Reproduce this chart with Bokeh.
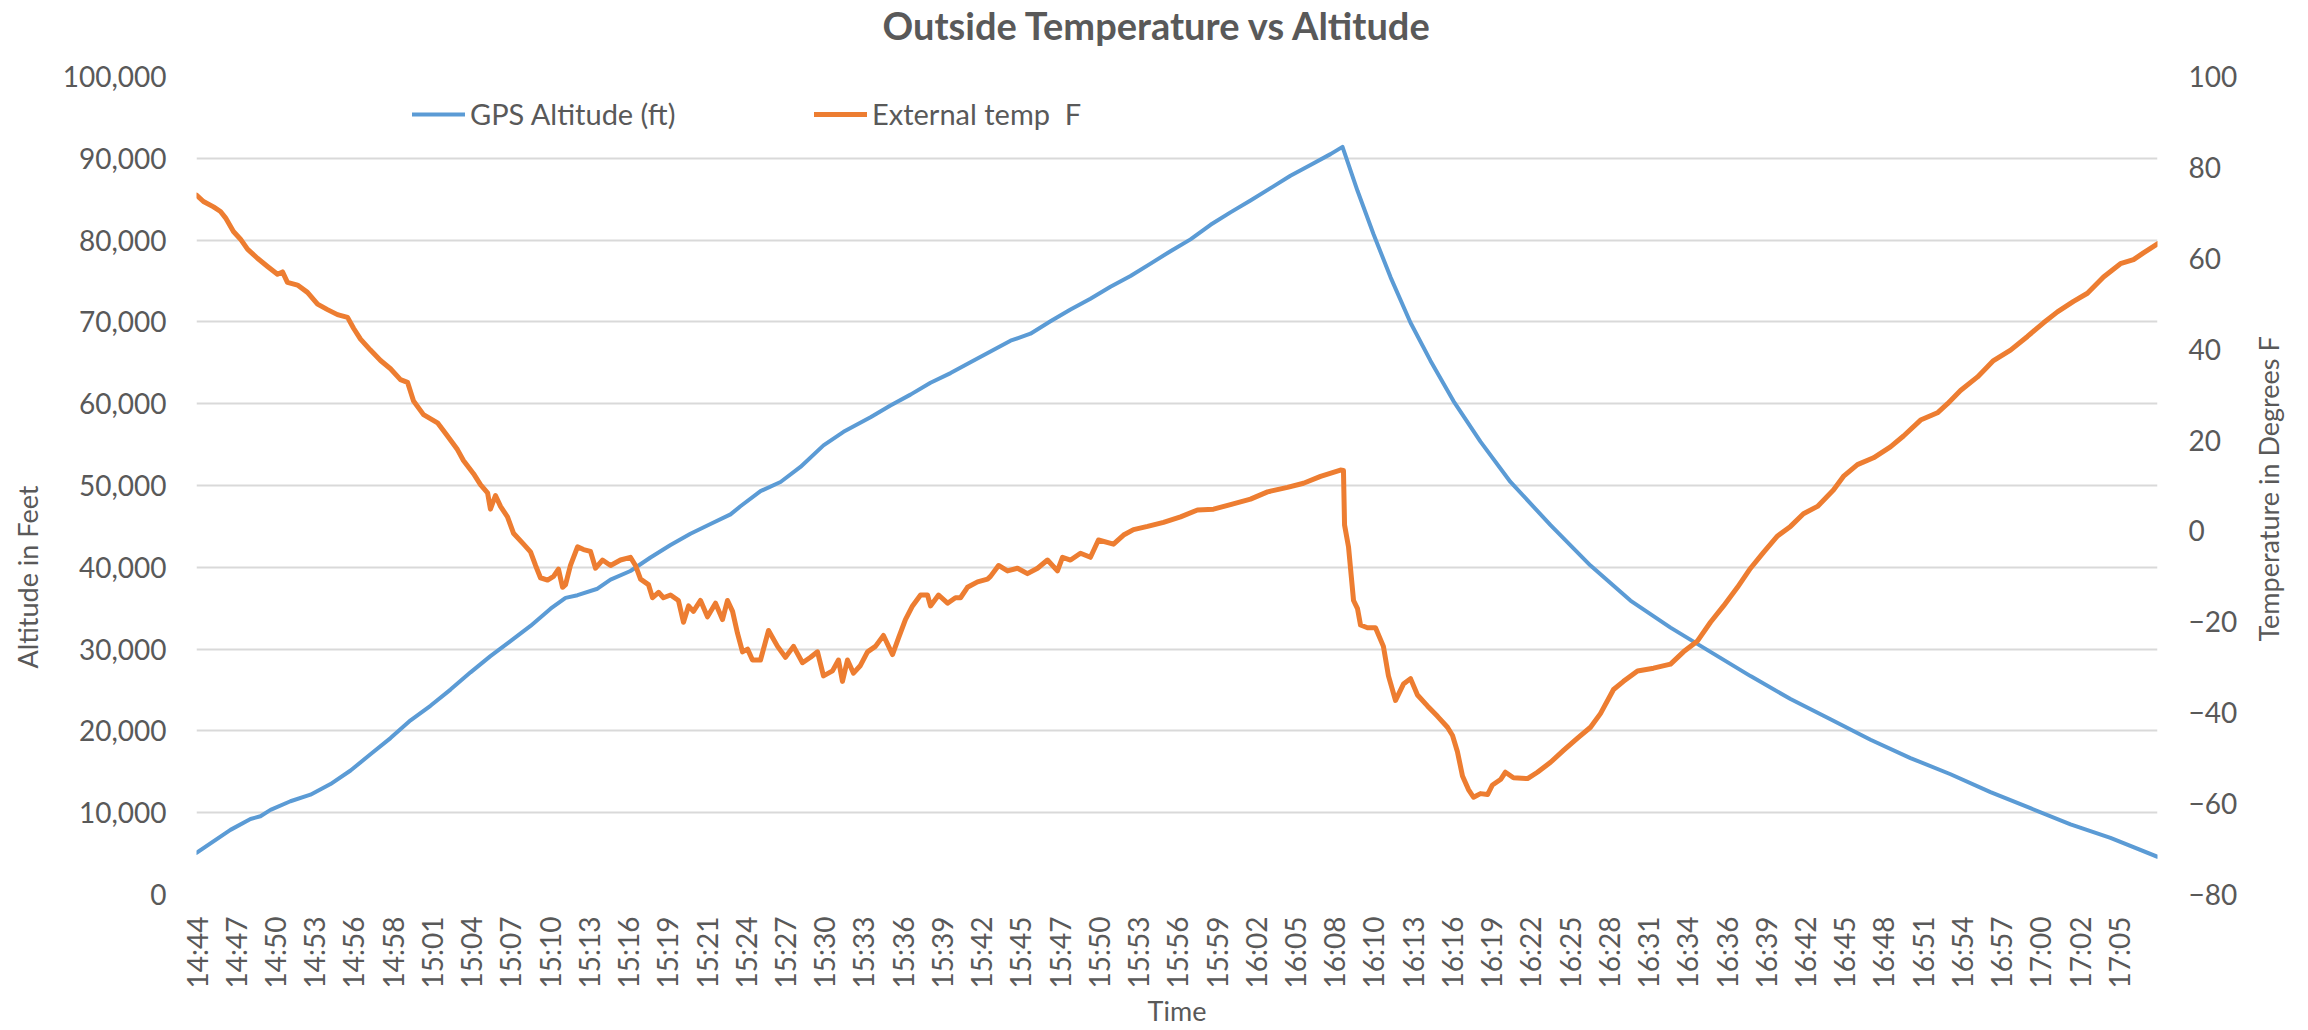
import math
from bokeh.plotting import figure
from bokeh.layouts import row
from bokeh.models import (Range1d, LinearAxis, FixedTicker, NumeralTickFormatter,
                          Legend, LegendItem, Title)
from bokeh.core.properties import value
from bokeh.embed import file_html
from bokeh.resources import INLINE

# ---------------- data ----------------
title_text = "Outside Temperature vs Altitude"
x_title = "Time"
left_title = "Altitude in Feet"
right_title = "Temperature in  Degrees F"
alt_series_name = "GPS Altitude (ft)"
temp_series_name = "External temp  F"

time_labels = ["14:44", "14:47", "14:50", "14:53", "14:56", "14:58", "15:01", "15:04", "15:07", "15:10",
               "15:13", "15:16", "15:19", "15:21", "15:24", "15:27", "15:30", "15:33", "15:36", "15:39",
               "15:42", "15:45", "15:47", "15:50", "15:53", "15:56", "15:59", "16:02", "16:05", "16:08",
               "16:10", "16:13", "16:16", "16:19", "16:22", "16:25", "16:28", "16:31", "16:34", "16:36",
               "16:39", "16:42", "16:45", "16:48", "16:51", "16:54", "16:57", "17:00", "17:02", "17:05"]
label_interval_min = 2.8776   # minutes between two category labels
x_end_min = 143.84             # last sample, minutes after first sample

alt_ticks = [0, 10000, 20000, 30000, 40000, 50000, 60000, 70000, 80000, 90000, 100000]
temp_ticks = [-80, -60, -40, -20, 0, 20, 40, 60, 80, 100]

# minutes after the first sample (14:44)
alt_elapsed_min = [0.0, 2.49, 3.96, 4.69, 5.43, 6.89, 8.36, 9.83, 11.30, 12.76,
                   14.23, 15.70, 17.16, 18.63, 20.10, 21.56, 23.03, 24.50, 25.97, 27.07,
                   27.95, 29.41, 30.37, 31.83, 33.30, 34.77, 36.23, 37.70, 39.17, 39.90,
                   41.37, 42.84, 44.30, 45.99, 47.46, 49.44, 50.90, 52.37, 53.84, 55.31,
                   56.77, 58.24, 59.71, 61.17, 62.64, 64.11, 65.57, 67.04, 68.51, 69.98,
                   71.44, 72.91, 74.38, 75.84, 77.31, 78.78, 80.24, 81.71, 83.18, 84.06,
                   85.16, 86.33, 87.58, 89.05, 90.51, 92.20, 94.18, 96.38, 99.32, 102.25,
                   105.18, 108.12, 111.05, 113.99, 116.92, 119.85, 122.79, 125.72, 128.66, 131.59,
                   134.52, 137.46, 140.39, 143.84]
alt_ft = [5080, 7900, 9230, 9560, 10350, 11400, 12200, 13500, 15160, 17140,
          19120, 21290, 23070, 25050, 27160, 29140, 30980, 32830, 34940, 36260,
          36590, 37380, 38500, 39550, 41200, 42720, 44100, 45290, 46470, 47460,
          49310, 50430, 52270, 54910, 56560, 58340, 59790, 61110, 62560, 63740,
          65060, 66380, 67700, 68560, 70070, 71520, 72840, 74290, 75610, 77130,
          78640, 80090, 81870, 83390, 84840, 86350, 87870, 89190, 90510, 91400,
          86030, 80750, 75480, 69900, 65260, 60320, 55370, 50430, 45160, 40210,
          35930, 32630, 29660, 26700, 23900, 21420, 18920, 16680, 14700, 12520,
          10550, 8570, 6920, 4610]

temp_elapsed_min = [0.0, 0.51, 1.25, 1.76, 2.13, 2.71, 3.23, 3.74, 4.47, 5.21,
                    5.94, 6.31, 6.67, 7.41, 8.14, 8.88, 9.61, 10.34, 11.08, 11.52,
                    12.03, 12.76, 13.50, 14.23, 14.96, 15.48, 15.92, 16.65, 17.68, 18.41,
                    19.14, 19.58, 20.32, 20.83, 21.35, 21.56, 21.93, 22.30, 22.81, 23.25,
                    23.99, 24.50, 24.87, 25.23, 25.75, 26.19, 26.55, 26.85, 27.07, 27.43,
                    27.95, 28.39, 28.90, 29.27, 29.78, 30.37, 31.10, 31.83, 32.20, 32.57,
                    33.15, 33.45, 33.89, 34.25, 34.77, 35.35, 35.72, 36.09, 36.45, 36.97,
                    37.48, 38.07, 38.58, 38.95, 39.32, 39.68, 40.05, 40.42, 40.78, 41.37,
                    41.96, 42.62, 43.20, 43.79, 44.45, 45.04, 45.55, 45.99, 46.65, 47.09,
                    47.38, 47.75, 48.19, 48.70, 49.22, 49.80, 50.39, 51.05, 51.49, 52.00,
                    52.52, 53.11, 53.62, 53.84, 54.43, 55.09, 55.67, 56.04, 56.55, 57.29,
                    58.02, 58.24, 58.83, 59.49, 60.22, 60.95, 61.69, 62.42, 63.15, 63.52,
                    64.11, 64.84, 65.57, 66.16, 67.26, 68.00, 68.73, 69.76, 70.93, 72.18,
                    73.42, 74.60, 75.84, 77.31, 78.56, 80.02, 81.20, 82.45, 83.91, 84.13,
                    84.21, 84.50, 84.87, 85.16, 85.38, 85.89, 86.48, 87.06, 87.43, 87.95,
                    88.53, 89.05, 89.56, 90.29, 91.03, 91.76, 92.13, 92.49, 92.86, 93.30,
                    93.67, 94.18, 94.70, 95.06, 95.65, 96.01, 96.60, 97.63, 98.36, 99.32,
                    100.27, 101.30, 102.25, 102.98, 103.94, 104.67, 105.70, 106.87, 108.12, 109.07,
                    110.10, 111.05, 112.01, 113.03, 113.99, 114.94, 115.97, 116.92, 117.87, 118.90,
                    120.07, 120.80, 121.83, 123.01, 124.25, 125.21, 126.46, 127.70, 128.44, 129.39,
                    130.64, 131.81, 133.06, 134.30, 135.48, 136.50, 137.68, 138.70, 139.88, 141.12,
                    142.08, 142.81, 143.84]
temp_f = [73.9, 72.5, 71.3, 70.3, 68.9, 65.9, 64.2, 62.0, 60.0, 58.2,
          56.5, 57.0, 54.7, 54.1, 52.5, 49.9, 48.7, 47.6, 47.0, 44.6,
          42.2, 39.8, 37.5, 35.7, 33.3, 32.7, 28.6, 25.6, 23.8, 20.9,
          17.9, 15.5, 12.6, 10.2, 8.4, 4.8, 7.8, 5.4, 3.1, -0.5,
          -2.9, -4.6, -7.6, -10.3, -10.8, -10.0, -8.4, -12.4, -11.8, -7.6,
          -3.5, -4.1, -4.5, -8.2, -6.4, -7.6, -6.4, -5.8, -7.6, -10.6,
          -11.8, -14.7, -13.5, -14.7, -14.1, -15.3, -20.1, -16.5, -17.7, -15.3,
          -18.9, -15.9, -19.5, -15.3, -17.7, -22.5, -26.6, -26.0, -28.4, -28.4,
          -21.9, -25.4, -27.8, -25.4, -29.0, -27.8, -26.6, -31.9, -30.8, -28.4,
          -33.1, -28.4, -31.3, -29.6, -26.6, -25.4, -23.0, -27.2, -23.6, -19.5,
          -16.5, -14.1, -14.1, -16.5, -14.1, -15.9, -14.7, -14.7, -12.4, -11.2,
          -10.6, -10.0, -7.6, -8.8, -8.2, -9.4, -8.2, -6.4, -8.8, -5.8,
          -6.4, -4.9, -5.8, -2.0, -2.9, -0.9, 0.3, 1.0, 1.9, 3.1,
          4.6, 4.8, 5.8, 7.0, 8.6, 9.6, 10.5, 12.0, 13.4, 13.3,
          1.3, -3.5, -15.3, -17.1, -20.7, -21.3, -21.3, -25.4, -31.9, -37.3,
          -33.7, -32.5, -36.1, -38.5, -40.8, -43.2, -45.0, -48.6, -53.9, -56.9,
          -58.6, -57.8, -58.0, -55.9, -54.7, -53.1, -54.3, -54.5, -53.1, -50.9,
          -48.3, -45.6, -43.2, -40.2, -34.9, -33.1, -30.8, -30.2, -29.3, -26.6,
          -24.2, -20.1, -16.5, -12.4, -8.2, -4.7, -1.1, 1.0, 3.8, 5.4,
          9.0, 12.0, 14.6, 16.1, 18.5, 20.9, 24.4, 26.0, 28.0, 30.9,
          33.9, 37.5, 39.8, 42.8, 45.8, 48.2, 50.5, 52.3, 55.9, 58.8,
          59.7, 61.2, 63.2]

# ---------------- style ----------------
TOTAL_W, H = 2308, 1030
LEFT_W = 54                 # narrow strip on the left holding the left-axis title
RIGHT_W = 61                # narrow strip on the right holding the right-axis title
W = TOTAL_W - LEFT_W - RIGHT_W
FONT = "Lato"
TXT = "#595959"
BLUE = "#5B9BD5"
ORANGE = "#ED7D31"
GRID = "#D9D9D9"
TICK_FS = "28px"
LEG_FS = "29px"
AXT_FS = "27px"
BORDER_TOP, BORDER_BOTTOM = 76, 132

p = figure(width=W, height=H, output_backend="svg", toolbar_location=None,
           x_range=Range1d(0, x_end_min), y_range=Range1d(alt_ticks[0], alt_ticks[-1]),
           min_border_left=196 - LEFT_W, min_border_right=90,
           min_border_top=BORDER_TOP, min_border_bottom=BORDER_BOTTOM)
p.outline_line_color = None
p.background_fill_color = "white"
p.border_fill_color = "white"
p.extra_y_ranges = {"temp": Range1d(temp_ticks[0], temp_ticks[-1])}

# title (a blank spacer title keeps it up near the top edge)
p.title.text = title_text
p.title.align = "left"
p.title.offset = 686
p.title.vertical_align = "top"
p.title.standoff = 0
p.title.text_font = FONT
p.title.text_font_size = "38px"
p.title.text_font_style = "bold"
p.title.text_color = TXT
p.add_layout(Title(text=" ", text_font_size="22px", standoff=0), "above")

# x axis (category-like labels)
tick_pos = [round(i * label_interval_min, 4) for i in range(len(time_labels))]
xa = p.xaxis[0]
xa.ticker = FixedTicker(ticks=tick_pos)
xa.major_label_overrides = dict(zip(tick_pos, time_labels))
xa.major_label_orientation = math.pi / 2
xa.major_label_standoff = 22
xa.axis_label = x_title
xa.axis_label_standoff = 3

# left axis (its title is drawn in the strip next to it)
ya = p.yaxis[0]
ya.ticker = FixedTicker(ticks=alt_ticks)
ya.formatter = NumeralTickFormatter(format="0,0")
ya.major_label_standoff = 30

# right axis (its title is drawn in the strip next to it)
ra = LinearAxis(y_range_name="temp", ticker=FixedTicker(ticks=temp_ticks))
ra.major_label_standoff = 31
p.add_layout(ra, "right")

for ax in (xa, ya, ra):
    ax.axis_line_color = None
    ax.major_tick_line_color = None
    ax.minor_tick_line_color = None
    ax.major_tick_out = 0
    ax.major_tick_in = 0
    ax.minor_tick_out = 0
    ax.minor_tick_in = 0
    ax.major_label_text_font = FONT
    ax.major_label_text_font_size = TICK_FS
    ax.major_label_text_color = TXT
    ax.axis_label_text_font = FONT
    ax.axis_label_text_font_size = AXT_FS
    ax.axis_label_text_color = TXT
    ax.axis_label_text_font_style = "normal"

p.xgrid.visible = False
p.ygrid.ticker = FixedTicker(ticks=alt_ticks)
p.ygrid.grid_line_color = GRID
p.ygrid.grid_line_width = 2

# series
r_alt = p.line(alt_elapsed_min, alt_ft, line_color=BLUE, line_width=4,
               line_join="round", line_cap="round")
r_temp = p.line(temp_elapsed_min, temp_f, y_range_name="temp", line_color=ORANGE,
                line_width=5, line_join="round", line_cap="round")

def make_legend(item_label, renderer, loc):
    lg = Legend(items=[LegendItem(label=item_label, renderers=[renderer])],
                location=loc, orientation="horizontal")
    lg.border_line_color = None
    lg.background_fill_alpha = 0
    lg.padding = 0
    lg.margin = 0
    lg.glyph_width = 53
    lg.glyph_height = 30
    lg.label_height = 30
    lg.label_standoff = 5
    lg.label_text_font = FONT
    lg.label_text_font_size = LEG_FS
    lg.label_text_color = TXT
    lg.label_text_baseline = "middle"
    return lg

p.add_layout(make_legend(alt_series_name, r_alt, (216, 763)))
p.add_layout(make_legend(temp_series_name, r_temp, (618, 763)))


def title_strip(width, border_right, text, align):
    s = figure(width=width, height=H, output_backend="svg", toolbar_location=None,
               x_range=Range1d(-1, 1), y_range=Range1d(-1, 1),
               x_axis_location=None, y_axis_location=None,
               min_border_left=0, min_border_right=border_right,
               min_border_top=BORDER_TOP, min_border_bottom=BORDER_BOTTOM)
    s.outline_line_color = None
    s.grid.visible = False
    s.background_fill_color = "white"
    s.border_fill_color = "white"
    # vertical text reading bottom-to-top
    s.text(x=[0], y=[0], text=[text], angle=math.pi / 2,
           text_align=align, text_baseline="middle",
           text_font=value(FONT), text_font_size=AXT_FS, text_color=TXT)
    return s

left_strip = title_strip(LEFT_W, 0, left_title, "right")
right_strip = title_strip(RIGHT_W, 20, right_title, "center")

layout = row(left_strip, p, right_strip)
open("out.html", "w").write(file_html(layout, INLINE))
